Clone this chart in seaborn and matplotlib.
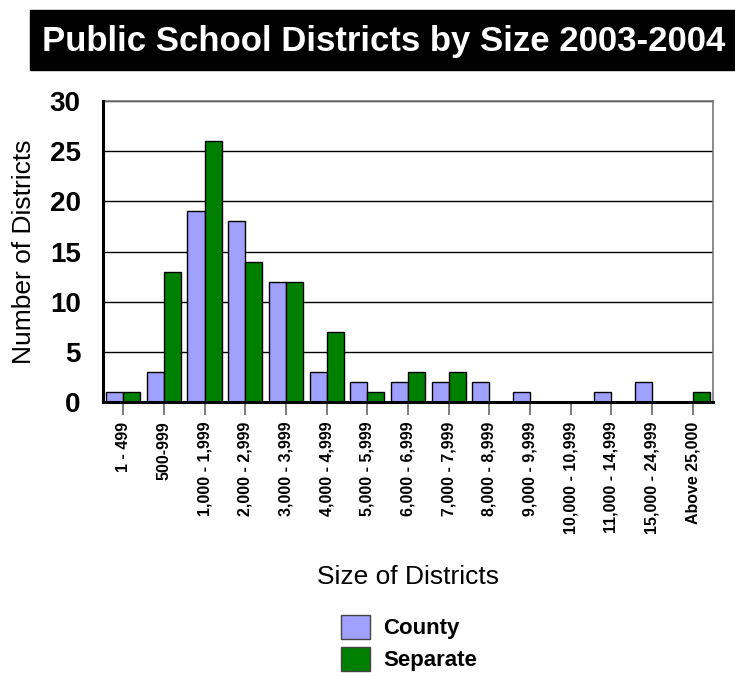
import pandas as pd
import seaborn as sns
import matplotlib.pyplot as plt
from matplotlib.patches import Rectangle, Patch

sizes = ["1 - 499", "500-999", "1,000 - 1,999", "2,000 - 2,999", "3,000 - 3,999",
         "4,000 - 4,999", "5,000 - 5,999", "6,000 - 6,999", "7,000 - 7,999",
         "8,000 - 8,999", "9,000 - 9,999", "10,000 - 10,999", "11,000 - 14,999",
         "15,000 - 24,999", "Above 25,000"]
county = [1, 3, 19, 18, 12, 3, 2, 2, 2, 2, 1, 0, 1, 2, 0]
separate = [1, 13, 26, 14, 12, 7, 1, 3, 3, 0, 0, 0, 0, 0, 1]
colors = {"County": "#a0a0ff", "Separate": "#008000"}

df = pd.DataFrame({
    "size": sizes * 2,
    "count": county + separate,
    "type": ["County"] * len(sizes) + ["Separate"] * len(sizes),
})

sns.set_style("white")
plt.rcParams["font.family"] = ["Liberation Sans", "DejaVu Sans"]
plt.rcParams["text.color"] = "black"
plt.rcParams["axes.labelcolor"] = "black"
plt.rcParams["xtick.color"] = "black"
plt.rcParams["ytick.color"] = "black"

fig = plt.figure(figsize=(7.35, 6.77), dpi=100)
ax = fig.add_axes([0.140, 0.406, 0.830, 0.445])

sns.barplot(data=df, x="size", y="count", hue="type", palette=colors,
            width=0.84, gap=0, saturation=1, edgecolor="black", linewidth=1,
            legend=False, ax=ax, zorder=3)

ax.set_ylim(0, 30)
ax.set_xlim(-0.5, len(sizes) - 0.5)
ax.set_yticks(range(0, 31, 5))
ax.yaxis.grid(True, color="black", linewidth=1, zorder=0)
ax.set_axisbelow(True)
ax.tick_params(axis="y", labelsize=20, length=0, pad=16)
for t in ax.get_yticklabels():
    t.set_fontweight("bold")
ax.tick_params(axis="x", labelsize=11.5, rotation=90, length=9, width=1.2,
               color="#666666", direction="out", bottom=True, pad=5)
for t in ax.get_xticklabels():
    t.set_fontweight("bold")

ax.set_ylabel("Number of Districts", fontsize=19, labelpad=10)
ax.set_xlabel("Size of Districts", fontsize=19, labelpad=22)

for side in ["top", "right"]:
    ax.spines[side].set_color("#777777")
    ax.spines[side].set_linewidth(1.2)
for side in ["left", "bottom"]:
    ax.spines[side].set_color("black")
    ax.spines[side].set_linewidth(2.2)
    ax.spines[side].set_zorder(5)

fig.patches.append(Rectangle((30 / 735, 1 - 70 / 677), 705 / 735, 60 / 677,
                             transform=fig.transFigure, color="black", zorder=0))
fig.text(384 / 735, 1 - 41 / 677, "Public School Districts by Size 2003-2004",
         color="white", fontsize=25, fontweight="bold", ha="center", va="center")

handles = [Patch(facecolor=colors[k], edgecolor="#444444", label=k) for k in colors]
leg = fig.legend(handles=handles, loc="center", bbox_to_anchor=(409 / 735, 1 - 643 / 677),
                 frameon=False, prop={"weight": "bold", "size": 16},
                 handlelength=1.3, handleheight=1.3, handletextpad=0.6, labelspacing=0.35)

fig.savefig("out.png", dpi=100)
